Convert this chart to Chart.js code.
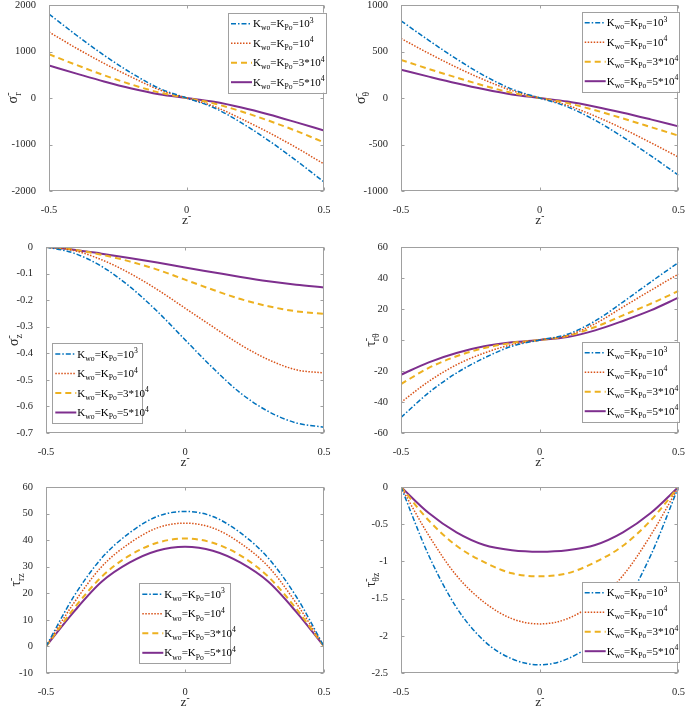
<!DOCTYPE html>
<html lang="en">
<head>
<meta charset="utf-8">
<title>Stress distributions along z</title>
<script src="https://cdn.jsdelivr.net/npm/chart.js@4.4.0/dist/chart.umd.min.js"></script>
<style>
	html, body { margin: 0; padding: 0; background: #fff; overflow: hidden; }
	#wrap { position: relative; width: 685px; height: 710px; }
	.panel { position: absolute; height: 240px; }
</style>
</head>
<body>
<div id="wrap"></div>
<script>
	// z coordinate and axis ticks
	var zVals = [-0.5, -0.4, -0.3, -0.2, -0.1, 0, 0.1, 0.2, 0.3, 0.4, 0.5];
	var zTicks = [-0.5, 0, 0.5];

	// series names (Kwo = KPo)
	var seriesNames = ["Kwo=KPo=10^3", "Kwo=KPo=10^4", "Kwo=KPo=3*10^4", "Kwo=KPo=5*10^4"];

	// sigma_r
	var sigmaRTicks = [-2000, -1000, 0, 1000, 2000];
	var sigmaR_a = [1806, 1350, 920, 535, 210, 0, -210, -535, -920, -1350, -1806];
	var sigmaR_b = [1420, 1070, 745, 450, 180, 0, -180, -450, -745, -1070, -1420];
	var sigmaR_c = [940, 710, 490, 290, 118, 0, -118, -290, -490, -710, -955];
	var sigmaR_d = [700, 525, 355, 205, 82, 0, -82, -205, -355, -525, -700];

	// sigma_theta
	var sigmaTTicks = [-1000, -500, 0, 500, 1000];
	var sigmaT_a = [830, 620, 420, 240, 95, 0, -95, -240, -420, -620, -830];
	var sigmaT_b = [640, 480, 330, 195, 80, 0, -80, -195, -330, -480, -635];
	var sigmaT_c = [410, 312, 220, 132, 55, 0, -55, -132, -220, -312, -405];
	var sigmaT_d = [305, 230, 158, 93, 38, 0, -38, -93, -158, -230, -305];

	// sigma_z
	var sigmaZTicks = [-0.7, -0.6, -0.5, -0.4, -0.3, -0.2, -0.1, 0];
	var sigmaZ_a = [0, -0.023, -0.073, -0.148, -0.242, -0.349, -0.455, -0.55, -0.619, -0.662, -0.678];
	var sigmaZ_b = [0, -0.013, -0.048, -0.098, -0.16, -0.23, -0.30, -0.368, -0.424, -0.462, -0.474];
	var sigmaZ_c = [0, -0.01, -0.029, -0.054, -0.085, -0.123, -0.161, -0.196, -0.223, -0.242, -0.252];
	var sigmaZ_d = [0, -0.01, -0.025, -0.041, -0.058, -0.077, -0.095, -0.113, -0.129, -0.142, -0.152];

	// tau_r_theta
	var tauRTTicks = [-60, -40, -20, 0, 20, 40, 60];
	var tauRT_a = [-50, -34, -21.3, -11.6, -4, 0, 3.7, 12.3, 24.5, 37.4, 50];
	var tauRT_b = [-40.2, -26.7, -16, -8.4, -3, 0, 3, 10.5, 21.3, 32, 42.5];
	var tauRT_c = [-28.4, -18, -10.5, -5.2, -1.9, 0, 2.6, 8.4, 15.9, 23.4, 31.6];
	var tauRT_d = [-22.4, -14.4, -8.4, -4.1, -1.5, 0, 1.9, 6.2, 12.3, 19.1, 27.3];

	// tau_rz
	var tauRZTicks = [-10, 0, 10, 20, 30, 40, 50, 60];
	var tauRZ_a = [0, 18.8, 33.2, 42.7, 48.9, 50.8, 48.9, 42.7, 33.2, 18.8, 0];
	var tauRZ_b = [0, 16.3, 30.0, 38.8, 44.6, 46.4, 44.6, 38.8, 30.0, 16.3, 0];
	var tauRZ_c = [0, 14.2, 26.2, 34.2, 39, 40.6, 39, 34.2, 26.2, 14.2, 0];
	var tauRZ_d = [0, 13, 24.3, 31.5, 36, 37.5, 36, 31.5, 24.3, 13, 0];

	// tau_theta_z
	var tauTZTicks = [-2.5, -2, -1.5, -1, -0.5, 0];
	var tauTZ_a = [0, -0.92, -1.62, -2.07, -2.31, -2.39, -2.31, -2.07, -1.62, -0.92, 0];
	var tauTZ_b = [0, -0.65, -1.19, -1.55, -1.77, -1.84, -1.77, -1.55, -1.19, -0.65, 0];
	var tauTZ_c = [0, -0.45, -0.79, -1.01, -1.16, -1.2, -1.16, -1.01, -0.79, -0.45, 0];
	var tauTZ_d = [0, -0.35, -0.61, -0.78, -0.85, -0.87, -0.85, -0.78, -0.61, -0.35, 0];

	var FONT = '"Liberation Serif", "Times New Roman", serif';
	var AXIS_COLOR = "#a0a0a0";
	var TEXT_COLOR = "#262626";

	// MATLAB default colours and line styles: -. : -- -
	var seriesStyles = [
		{ color: "#0072BD", dash: [5, 2, 1.5, 2], width: 1.5 },
		{ color: "#D95319", dash: [1.5, 1.5], width: 1.5 },
		{ color: "#EDB120", dash: [6, 4], width: 2 },
		{ color: "#7E2F8E", dash: [], width: 2 }
	];

	// legend texts with sub/superscripts
	var legendLabels = [
		[{ t: "K" }, { sub: "wo" }, { t: "=K" }, { sub: "Po" }, { t: "=10" }, { sup: "3" }],
		[{ t: "K" }, { sub: "wo" }, { t: "=K" }, { sub: "Po" }, { t: "=10" }, { sup: "4" }],
		[{ t: "K" }, { sub: "wo" }, { t: "=K" }, { sub: "Po" }, { t: "=3*10" }, { sup: "4" }],
		[{ t: "K" }, { sub: "wo" }, { t: "=K" }, { sub: "Po" }, { t: "=5*10" }, { sup: "4" }]
	];
	var xTitle = [{ t: "z" }, { sup: "-" }];

	var panels = [
		{ left: 0, top: -7, width: 340, plotLeft: 49, right: 16, yTicks: sigmaRTicks,
			data: [sigmaR_a, sigmaR_b, sigmaR_c, sigmaR_d],
			yTitle: [{ t: "σ" }, { sup: "-", sub: "r" }], yTitleX: 12,
			legend: { x: 228, y: 12.7, w: 98 } },
		{ left: 340, top: -7, width: 350, plotLeft: 61, right: 11, yTicks: sigmaTTicks,
			data: [sigmaT_a, sigmaT_b, sigmaT_c, sigmaT_d],
			yTitle: [{ t: "σ" }, { sup: "-", sub: "θ" }], yTitleX: 20,
			legend: { x: 581.7, y: 11.7, w: 97 } },
		{ left: 0, top: 235, width: 340, plotLeft: 46, right: 16, yTicks: sigmaZTicks,
			data: [sigmaZ_a, sigmaZ_b, sigmaZ_c, sigmaZ_d],
			yTitle: [{ t: "σ" }, { sup: "-", sub: "z" }], yTitleX: 13,
			legend: { x: 52.3, y: 343, w: 89.5 } },
		{ left: 340, top: 235, width: 350, plotLeft: 61, right: 11, yTicks: tauRTTicks,
			data: [tauRT_a, tauRT_b, tauRT_c, tauRT_d],
			yTitle: [{ t: "τ" }, { sup: "-", sub: "rθ" }], yTitleX: 30,
			legend: { x: 581.7, y: 341.7, w: 97 } },
		{ left: 0, top: 475, width: 340, plotLeft: 46, right: 16, yTicks: tauRZTicks,
			data: [tauRZ_a, tauRZ_b, tauRZ_c, tauRZ_d],
			yTitle: [{ t: "τ" }, { sup: "-", sub: "rz" }], yTitleX: 15,
			legend: { x: 139.3, y: 583.3, w: 91 } },
		{ left: 340, top: 475, width: 350, plotLeft: 61, right: 11, yTicks: tauTZTicks,
			data: [tauTZ_a, tauTZ_b, tauTZ_c, tauTZ_d],
			yTitle: [{ t: "τ" }, { sup: "-", sub: "θz" }], yTitleX: 30,
			legend: { x: 581.7, y: 581.7, w: 97 } }
	];

	function fmt(v) {
		return String(Math.round(v * 100) / 100);
	}

	function richWidth(ctx, parts, size) {
		var w = 0;
		parts.forEach(function(p) {
			if (p.t) {
				ctx.font = size + "px " + FONT;
				w += ctx.measureText(p.t).width;
			} else {
				ctx.font = (size * 0.7) + "px " + FONT;
				w += Math.max(p.sup ? ctx.measureText(p.sup).width : 0, p.sub ? ctx.measureText(p.sub).width : 0);
			}
		});
		return w;
	}

	// y is the vertical middle of the main text
	function drawRich(ctx, parts, x, y, size) {
		ctx.textBaseline = "alphabetic";
		ctx.textAlign = "left";
		var base = y + size * 0.33;
		parts.forEach(function(p) {
			if (p.t) {
				ctx.font = size + "px " + FONT;
				ctx.fillText(p.t, x, base);
				x += ctx.measureText(p.t).width;
			} else {
				ctx.font = (size * 0.7) + "px " + FONT;
				var w = 0;
				if (p.sup) {
					ctx.fillText(p.sup, x, base - size * 0.42);
					w = ctx.measureText(p.sup).width;
				}
				if (p.sub) {
					ctx.fillText(p.sub, x, base + size * 0.28);
					w = Math.max(w, ctx.measureText(p.sub).width);
				}
				x += w;
			}
		});
	}

	var wrap = document.getElementById("wrap");

	panels.forEach(function(p) {
		var div = document.createElement("div");
		div.className = "panel";
		div.style.left = p.left + "px";
		div.style.top = p.top + "px";
		div.style.width = p.width + "px";
		var canvas = document.createElement("canvas");
		div.appendChild(canvas);
		wrap.appendChild(div);

		var datasets = p.data.map(function(arr, k) {
			var st = seriesStyles[k];
			return {
				label: seriesNames[k],
				data: zVals.map(function(z, j) { return { x: z, y: arr[j] }; }),
				borderColor: st.color,
				borderWidth: st.width,
				borderDash: st.dash,
				pointRadius: 0,
				fill: false,
				cubicInterpolationMode: "monotone"
			};
		});

		var framePlugin = {
			id: "matlabFrame",
			afterDraw: function(chart) {
				var ctx = chart.ctx, a = chart.chartArea;
				var xs = chart.scales.x, ys = chart.scales.y;
				ctx.save();
				// box + inward ticks
				var L = Math.round(a.left) + 0.5, R = Math.round(a.right) - 0.5;
				var T = Math.round(a.top) + 0.5, B = Math.round(a.bottom) - 0.5;
				ctx.strokeStyle = AXIS_COLOR;
				ctx.lineWidth = 1;
				ctx.strokeRect(L, T, R - L, B - T);
				ctx.beginPath();
				p.yTicks.forEach(function(v) {
					var y = Math.round(ys.getPixelForValue(v)) + 0.5;
					ctx.moveTo(L, y); ctx.lineTo(L + 3, y);
					ctx.moveTo(R, y); ctx.lineTo(R - 3, y);
				});
				zTicks.forEach(function(v) {
					var x = Math.round(xs.getPixelForValue(v)) + 0.5;
					ctx.moveTo(x, B); ctx.lineTo(x, B - 3);
					ctx.moveTo(x, T); ctx.lineTo(x, T + 3);
				});
				ctx.stroke();

				// axis titles
				ctx.fillStyle = TEXT_COLOR;
				var w = richWidth(ctx, xTitle, 13.5);
				drawRich(ctx, xTitle, (a.left + a.right) / 2 - w / 2, a.bottom + 29, 13.5);
				ctx.save();
				ctx.translate(p.yTitleX, (a.top + a.bottom) / 2);
				ctx.rotate(-Math.PI / 2);
				w = richWidth(ctx, p.yTitle, 14);
				drawRich(ctx, p.yTitle, -w / 2, 0, 14);
				ctx.restore();

				// legend box
				var lx = p.legend.x - p.left, ly = p.legend.y - p.top, lh = 80;
				ctx.fillStyle = "#fff";
				ctx.fillRect(lx, ly, p.legend.w, lh);
				ctx.strokeStyle = AXIS_COLOR;
				ctx.lineWidth = 1;
				ctx.strokeRect(Math.round(lx) + 0.5, Math.round(ly) + 0.5, Math.round(p.legend.w), lh);
				legendLabels.forEach(function(parts, k) {
					var st = seriesStyles[k];
					var ry = ly + 11 + k * 19.5;
					ctx.strokeStyle = st.color;
					ctx.lineWidth = st.width;
					ctx.setLineDash(st.dash);
					ctx.beginPath();
					ctx.moveTo(lx + 3, ry);
					ctx.lineTo(lx + 24, ry);
					ctx.stroke();
					ctx.setLineDash([]);
					ctx.fillStyle = "#000";
					drawRich(ctx, parts, lx + 25, ry, 11);
				});
				ctx.restore();
			}
		};

		new Chart(canvas.getContext("2d"), {
			type: "line",
			data: { datasets: datasets },
			options: {
				responsive: true,
				maintainAspectRatio: false,
				animation: false,
				layout: { padding: { top: 12, right: p.right, bottom: 0, left: 0 } },
				plugins: { legend: { display: false }, tooltip: { enabled: false } },
				scales: {
					x: {
						type: "linear",
						min: -0.5,
						max: 0.5,
						grid: { display: false },
						border: { display: false },
						afterFit: function(s) { s.height = 42; },
						afterBuildTicks: function(s) { s.ticks = zTicks.map(function(v) { return { value: v }; }); },
						ticks: { font: { family: FONT, size: 10.5 }, color: TEXT_COLOR, padding: 5, maxRotation: 0, autoSkip: false, callback: fmt }
					},
					y: {
						type: "linear",
						min: p.yTicks[0],
						max: p.yTicks[p.yTicks.length - 1],
						grid: { display: false },
						border: { display: false },
						afterFit: function(s) { s.width = p.plotLeft; },
						afterBuildTicks: function(s) { s.ticks = p.yTicks.map(function(v) { return { value: v }; }); },
						ticks: { font: { family: FONT, size: 10.5 }, color: TEXT_COLOR, padding: 5, autoSkip: false, callback: fmt }
					}
				}
			},
			plugins: [framePlugin]
		});
	});
</script>
</body>
</html>
